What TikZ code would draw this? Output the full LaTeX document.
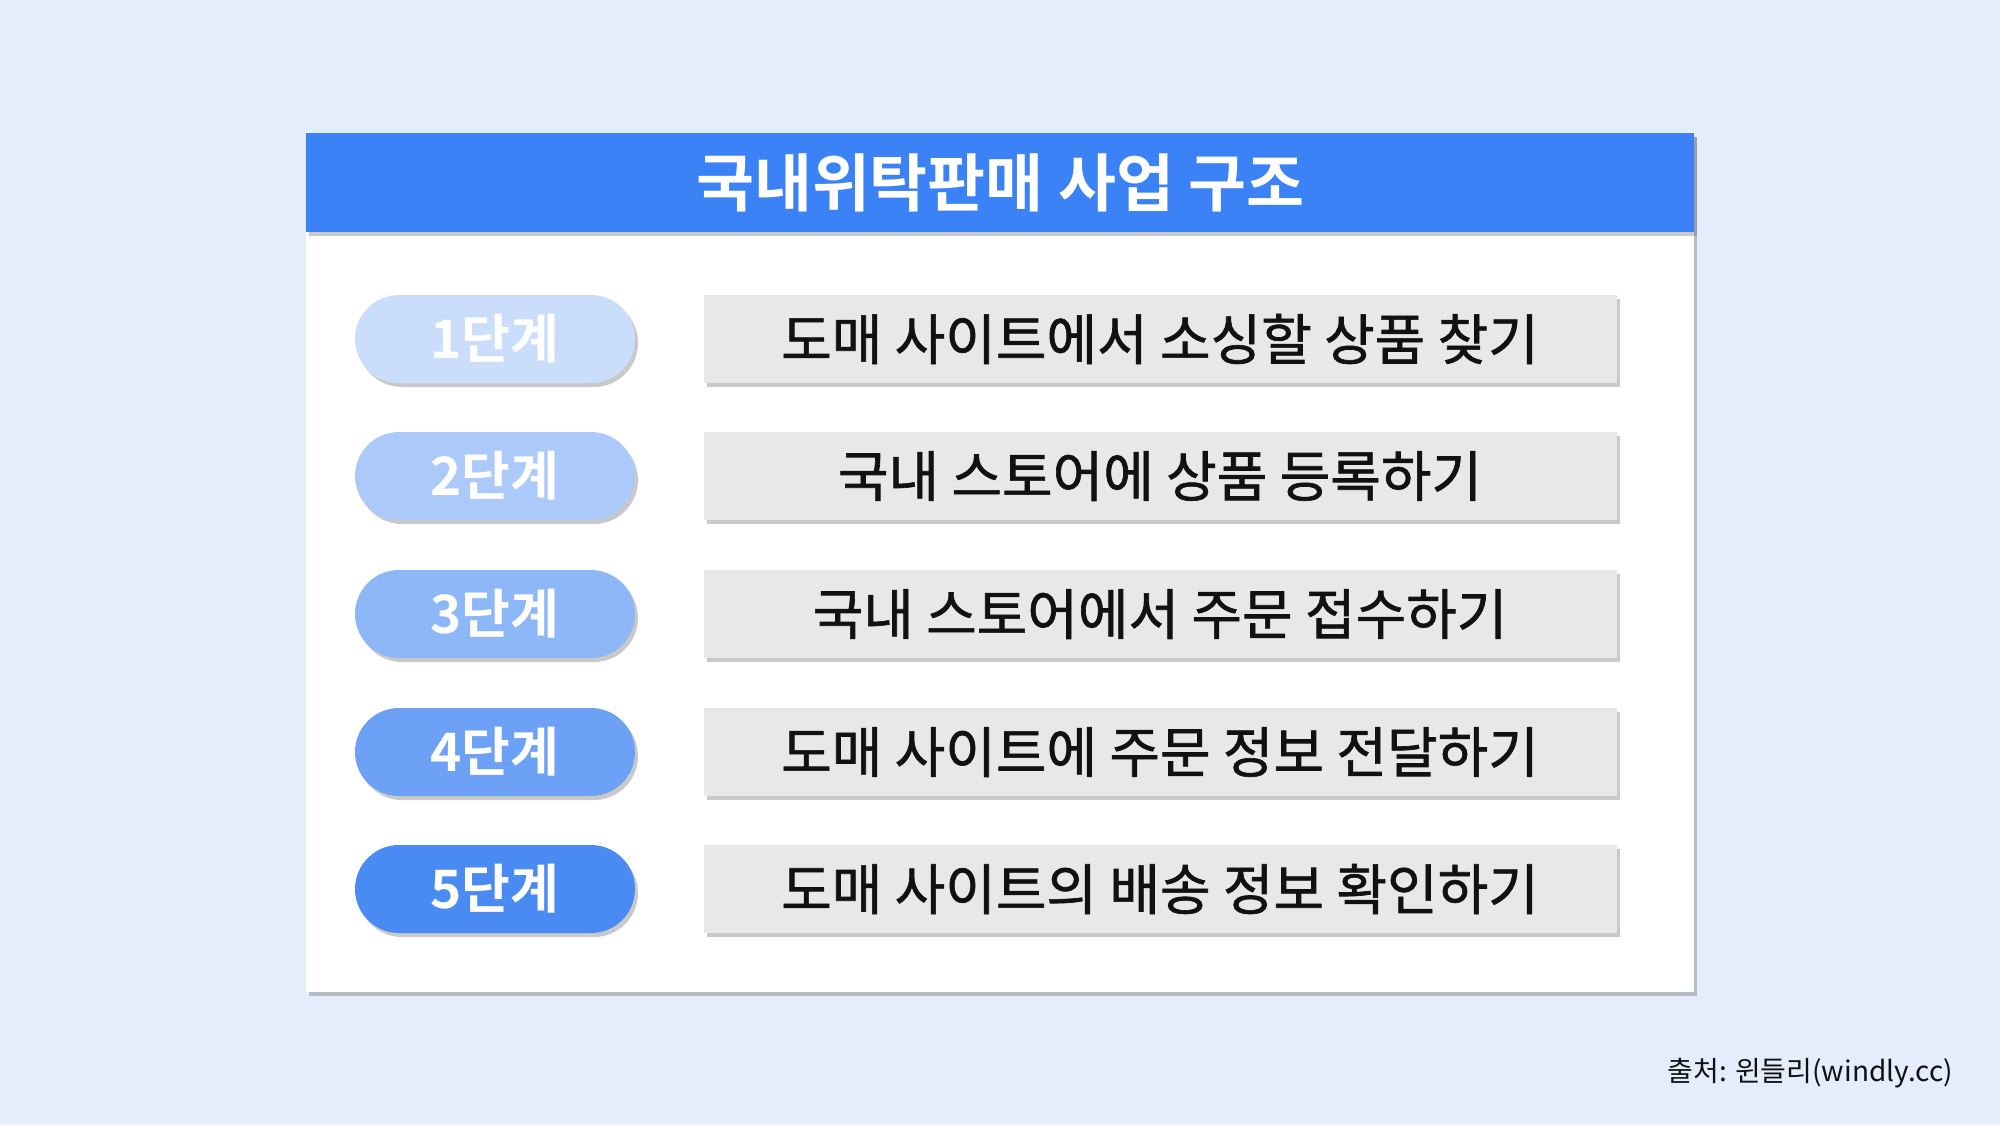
\documentclass[tikz,border=0pt]{standalone}
\usepackage{fontspec}
\newfontfamily\kr{Noto Sans CJK KR}[BoldFont={* Bold}]
\newfontfamily\krm{Noto Sans CJK KR}[FakeBold=1.2]
\usetikzlibrary{shadows}
\definecolor{bgc}{RGB}{227,237,252}
\definecolor{hdr}{RGB}{59,130,246}
\definecolor{boxc}{RGB}{232,232,232}
\definecolor{pa}{RGB}{202,221,250}
\definecolor{pb}{RGB}{172,202,249}
\definecolor{pc}{RGB}{142,183,247}
\definecolor{pd}{RGB}{108,161,245}
\definecolor{pe}{RGB}{74,139,243}
\definecolor{txt}{RGB}{17,17,17}
\tikzset{
  shad/.style={drop shadow={shadow xshift=3pt,shadow yshift=-4pt,opacity=0.35,fill=black!60}},
  pill/.style={shad,rectangle,rounded corners=44pt,minimum width=280pt,minimum height=88pt,inner sep=0pt,text=white,font=\kr\bfseries\fontsize{53}{53}\selectfont},
  stepbox/.style={shad,rectangle,fill=boxc,minimum width=913pt,minimum height=88pt,inner sep=0pt,text=txt,font=\krm\fontsize{55}{55}\selectfont},
}
\begin{document}
\begin{tikzpicture}[x=1pt,y=-1pt]
\useasboundingbox (0,0) rectangle (2000,1125);
\fill[bgc] (0,0) rectangle (2000,1125);
\node[shad,fill=white,minimum width=1388pt,minimum height=859pt,inner sep=0pt,anchor=north west] (panel) at (306,133) {};
\node[shad,fill=hdr,minimum width=1388pt,minimum height=99pt,inner sep=0pt,anchor=north west,text=white,font=\kr\bfseries\fontsize{63}{63}\selectfont] (title) at (306,133) {국내위탁판매 사업 구조};
\node[pill,fill=pa] (p1) at (495,339) {1단계};
\node[pill,fill=pb] (p2) at (495,476) {2단계};
\node[pill,fill=pc] (p3) at (495,614) {3단계};
\node[pill,fill=pd] (p4) at (495,752) {4단계};
\node[pill,fill=pe] (p5) at (495,889) {5단계};
\node[stepbox] (s1) at (1160,339) {도매 사이트에서 소싱할 상품 찾기};
\node[stepbox] (s2) at (1160,476) {국내 스토어에 상품 등록하기};
\node[stepbox] (s3) at (1160,614) {국내 스토어에서 주문 접수하기};
\node[stepbox] (s4) at (1160,752) {도매 사이트에 주문 정보 전달하기};
\node[stepbox] (s5) at (1160,889) {도매 사이트의 배송 정보 확인하기};
\node[anchor=east,inner sep=0pt,text=txt,font=\kr\fontsize{28}{28}\selectfont] (src) at (1953,1073) {출처: 윈들리(windly.cc)};
\end{tikzpicture}
\end{document}
